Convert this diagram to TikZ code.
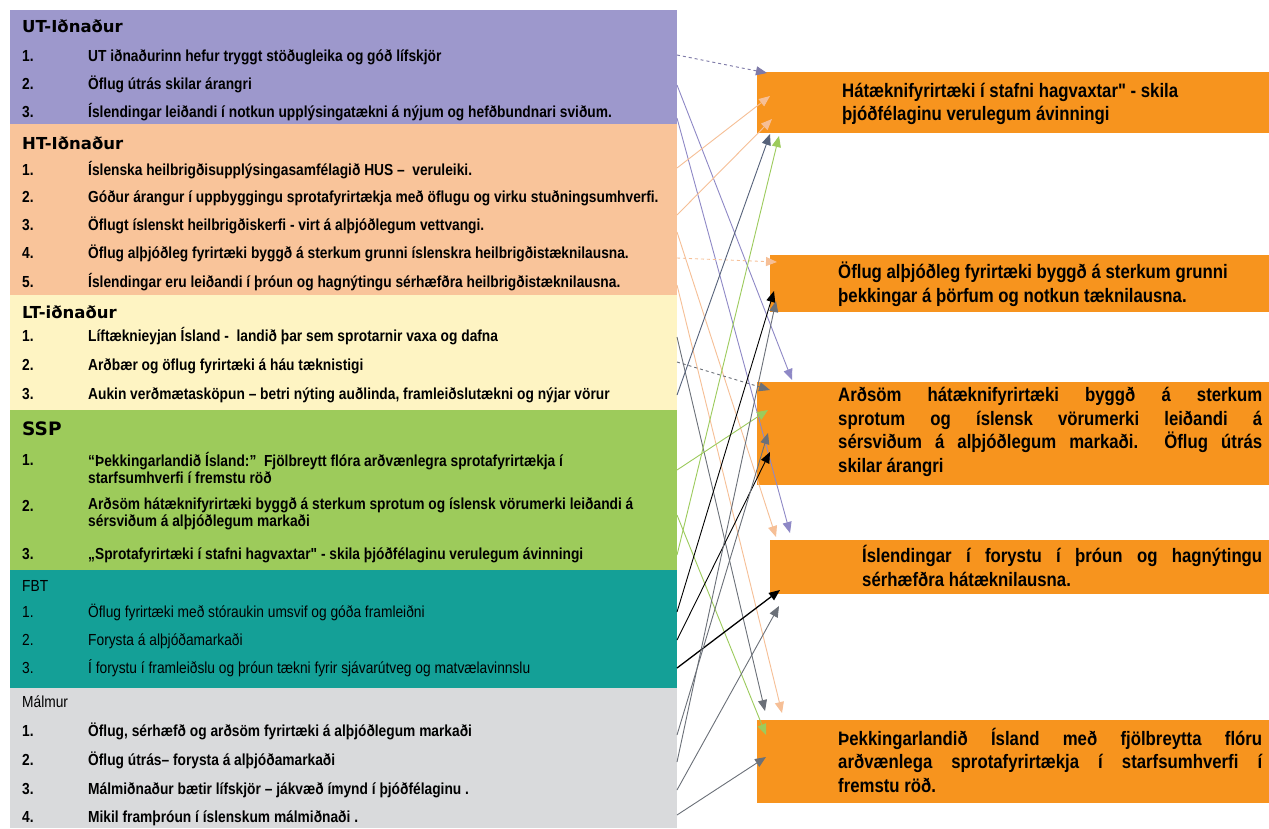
\documentclass[tikz,border=0pt]{standalone}
\usepackage{fontspec}
\setmainfont{Liberation Sans}
\newfontfamily\nar[FakeStretch=0.86]{Liberation Sans}
\newfontfamily\hdr{DejaVu Sans}
\usetikzlibrary{arrows.meta}
\definecolor{cUT}{HTML}{9D98CC}
\definecolor{cHT}{HTML}{F9C49A}
\definecolor{cLT}{HTML}{FEF4C3}
\definecolor{cSSP}{HTML}{9DCB5B}
\definecolor{cFBT}{HTML}{14A097}
\definecolor{cM}{HTML}{D9DADC}
\definecolor{cOr}{HTML}{F7941E}
\definecolor{aPur}{HTML}{8E88C6}
\definecolor{aPurD}{HTML}{7E7AA8}
\definecolor{aPea}{HTML}{F6BF96}
\definecolor{aGre}{HTML}{9CCB5C}
\definecolor{aGry}{HTML}{6B7078}
\definecolor{aSla}{HTML}{56627A}
\tikzset{
  sec/.style={anchor=north west,inner sep=0pt,outer sep=0pt},
  item/.style={anchor=west,inner sep=0pt,text height=11.5pt,text depth=3.5pt,font=\nar\bfseries\fontsize{16}{17}\selectfont},
  itemr/.style={anchor=west,inner sep=0pt,text height=11.5pt,text depth=3.5pt,font=\nar\fontsize{16}{17}\selectfont},
  head/.style={anchor=west,inner sep=0pt,font=\hdr\bfseries\fontsize{16.5}{18}\selectfont},
  goal/.style={anchor=north west,inner sep=0pt,outer sep=0pt,fill=cOr},
  gtext/.style={anchor=west,inner sep=0pt,align=left,font=\nar\bfseries\fontsize{19.5}{23.5}\selectfont},
  arr/.style={-{Triangle[length=11pt,width=9pt]},line width=0.9pt},
}
\begin{document}
\begin{tikzpicture}[x=1pt,y=-1pt]
\useasboundingbox (0,0) rectangle (1269,828);
\fill[white] (0,0) rectangle (1269,828);
% ---------- left panel sections
\node[sec,fill=cUT,minimum width=667pt,minimum height=114pt] (UT) at (10,10) {};
\node[sec,fill=cHT,minimum width=667pt,minimum height=171pt] (HT) at (10,124) {};
\node[sec,fill=cLT,minimum width=667pt,minimum height=115pt] (LT) at (10,295) {};
\node[sec,fill=cSSP,minimum width=667pt,minimum height=160pt] (SSP) at (10,410) {};
\node[sec,fill=cFBT,minimum width=667pt,minimum height=118pt] (FBT) at (10,570) {};
\node[sec,fill=cM,minimum width=667pt,minimum height=140pt] (MAL) at (10,688) {};
% ---------- UT
\node[head] (hUT) at (22,26) {UT-Iðnaður};
\node[item] (nUT1) at (22,57) {1.}; \node[item] (tUT1) at (88,57) {UT iðnaðurinn hefur tryggt stöðugleika og góð lífskjör};
\node[item] (nUT2) at (22,85) {2.}; \node[item] (tUT2) at (88,85) {Öflug útrás skilar árangri};
\node[item] (nUT3) at (22,113) {3.}; \node[item] (tUT3) at (88,113) {Íslendingar leiðandi í notkun upplýsingatækni á nýjum og hefðbundnari sviðum.};
% ---------- HT
\node[head] (hHT) at (22,143) {HT-Iðnaður};
\node[item] (nHT1) at (22,171) {1.}; \node[item] (tHT1) at (88,171) {Íslenska heilbrigðisupplýsingasamfélagið HUS –\ \ veruleiki.};
\node[item] (nHT2) at (22,198) {2.}; \node[item] (tHT2) at (88,198) {Góður árangur í uppbyggingu sprotafyrirtækja með öflugu og virku stuðningsumhverfi.};
\node[item] (nHT3) at (22,226) {3.}; \node[item] (tHT3) at (88,226) {Öflugt íslenskt heilbrigðiskerfi - virt á alþjóðlegum vettvangi.};
\node[item] (nHT4) at (22,254) {4.}; \node[item] (tHT4) at (88,254) {Öflug alþjóðleg fyrirtæki byggð á sterkum grunni íslenskra heilbrigðistæknilausna.};
\node[item] (nHT5) at (22,283) {5.}; \node[item] (tHT5) at (88,283) {Íslendingar eru leiðandi í þróun og hagnýtingu sérhæfðra heilbrigðistæknilausna.};
% ---------- LT
\node[head] (hLT) at (22,312) {LT-iðnaður};
\node[item] (nLT1) at (22,337) {1.}; \node[item] (tLT1) at (88,337) {Líftæknieyjan Ísland -\ \ landið þar sem sprotarnir vaxa og dafna};
\node[item] (nLT2) at (22,366) {2.}; \node[item] (tLT2) at (88,366) {Arðbær og öflug fyrirtæki á háu tæknistigi};
\node[item] (nLT3) at (22,395) {3.}; \node[item] (tLT3) at (88,395) {Aukin verðmætasköpun – betri nýting auðlinda, framleiðslutækni og nýjar vörur};
% ---------- SSP
\node[head,font=\hdr\bfseries\fontsize{18.5}{20}\selectfont] (hSSP) at (22,429) {SSP};
\node[item] (nSSP1) at (22,461) {1.}; \node[item,text height=,text depth=,align=left,anchor=north west] (tSSP1) at (88,452) {“Þekkingarlandið Ísland:”\ \ Fjölbreytt flóra arðvænlegra sprotafyrirtækja í\\starfsumhverfi í fremstu röð};
\node[item] (nSSP2) at (22,507) {2.}; \node[item,text height=,text depth=,align=left,anchor=north west] (tSSP2) at (88,498) {Arðsöm hátæknifyrirtæki byggð á sterkum sprotum og íslensk vörumerki leiðandi á\\sérsviðum á alþjóðlegum markaði};
\node[item] (nSSP3) at (22,555) {3.}; \node[item] (tSSP3) at (88,555) {„Sprotafyrirtæki í stafni hagvaxtar" - skila þjóðfélaginu verulegum ávinningi};
% ---------- FBT
\node[itemr] (hFBT) at (22,587) {FBT};
\node[itemr] (nFBT1) at (22,613) {1.}; \node[itemr] (tFBT1) at (88,613) {Öflug fyrirtæki með stóraukin umsvif og góða framleiðni};
\node[itemr] (nFBT2) at (22,641) {2.}; \node[itemr] (tFBT2) at (88,641) {Forysta á alþjóðamarkaði};
\node[itemr] (nFBT3) at (22,669) {3.}; \node[itemr] (tFBT3) at (88,669) {Í forystu í framleiðslu og þróun tækni fyrir sjávarútveg og matvælavinnslu};
% ---------- Malmur
\node[itemr] (hMAL) at (22,703) {Málmur};
\node[item] (nM1) at (22,732) {1.}; \node[item] (tM1) at (88,732) {Öflug, sérhæfð og arðsöm fyrirtæki á alþjóðlegum markaði};
\node[item] (nM2) at (22,761) {2.}; \node[item] (tM2) at (88,761) {Öflug útrás– forysta á alþjóðamarkaði};
\node[item] (nM3) at (22,790) {3.}; \node[item] (tM3) at (88,790) {Málmiðnaður bætir lífskjör – jákvæð ímynd í þjóðfélaginu .};
\node[item] (nM4) at (22,818) {4.}; \node[item] (tM4) at (88,818) {Mikil framþróun í íslenskum málmiðnaði .};
% ---------- goal boxes
\node[goal,minimum width=512pt,minimum height=61pt] (G1) at (757,72) {};
\node[goal,minimum width=499pt,minimum height=57pt] (G2) at (770,255) {};
\node[goal,minimum width=512pt,minimum height=103pt] (G3) at (757,382) {};
\node[goal,minimum width=499pt,minimum height=54pt] (G4) at (770,540) {};
\node[goal,minimum width=512pt,minimum height=83pt] (G5) at (757,720) {};
\node[gtext] (T1) at (842,104) {Hátæknifyrirtæki í stafni hagvaxtar" - skila\\þjóðfélaginu verulegum ávinningi};
\node[gtext] (T2) at (838,284) {Öflug alþjóðleg fyrirtæki byggð á sterkum grunni\\þekkingar á þörfum og notkun tæknilausna.};
\node[gtext] (T3) at (838,432) {\makebox[424pt][s]{Arðsöm hátæknifyrirtæki byggð á sterkum}\\\makebox[424pt][s]{sprotum og íslensk vörumerki leiðandi á}\\\makebox[424pt][s]{sérsviðum á alþjóðlegum markaði.\ \ Öflug útrás}\\skilar árangri};
\node[gtext] (T4) at (862,566) {\makebox[400pt][s]{Íslendingar í forystu í þróun og hagnýtingu}\\sérhæfðra hátæknilausna.};
\node[gtext] (T5) at (838,760) {\makebox[424pt][s]{Þekkingarlandið Ísland með fjölbreytta flóru}\\\makebox[424pt][s]{arðvænlega sprotafyrirtækja í starfsumhverfi í}\\fremstu röð.};
% ---------- connector end points
\coordinate (sUT1) at (677,55);  \coordinate (sUT2) at (677,85);  \coordinate (sUT3) at (677,118);
\coordinate (sHT1) at (677,168); \coordinate (sHT2) at (677,215); \coordinate (sHT3) at (677,232);
\coordinate (sHT4) at (677,258); \coordinate (sHT5) at (677,285);
\coordinate (sLT1) at (677,337); \coordinate (sLT2) at (677,362); \coordinate (sLT3) at (677,395);
\coordinate (sSSP1) at (677,470); \coordinate (sSSP2) at (677,515); \coordinate (sSSP3) at (677,555);
\coordinate (sFBT1) at (677,612); \coordinate (sFBT2) at (677,640); \coordinate (sFBT3) at (677,668);
\coordinate (sM1) at (677,735); \coordinate (sM2) at (677,762); \coordinate (sM3) at (677,790); \coordinate (sM4) at (677,815);
\coordinate (eG1a) at (767,73);  \coordinate (eG1b) at (770,96);  \coordinate (eG1c) at (772,119);
\coordinate (eG1d) at (770,134); \coordinate (eG1e) at (779,136);
\coordinate (eG2a) at (777,262); \coordinate (eG2b) at (774,291); \coordinate (eG2c) at (776,301);
\coordinate (eG3a) at (792,380); \coordinate (eG3b) at (770,390); \coordinate (eG3c) at (768,410);
\coordinate (eG3d) at (768,433); \coordinate (eG3e) at (770,452);
\coordinate (eG4a) at (790,533); \coordinate (eG4b) at (776,537); \coordinate (eG4c) at (780,590); \coordinate (eG4d) at (779,606);
\coordinate (eG5a) at (765,711); \coordinate (eG5b) at (782,713); \coordinate (eG5c) at (766,735); \coordinate (eG5d) at (766,757);
% ---------- connectors
\draw[arr,aPurD,dashed] (sUT1) -- (eG1a);
\draw[arr,aPur] (sUT2) -- (eG3a);
\draw[arr,aPur] (sUT3) -- (eG4a);
\draw[arr,aPea] (sHT1) -- (eG1b);
\draw[arr,aPea] (sHT2) -- (eG1c);
\draw[arr,aPea,dashed] (sHT4) -- (eG2a);
\draw[arr,aPea] (sHT3) -- (eG4b);
\draw[arr,aPea] (sHT5) -- (eG5b);
\draw[arr,aGry] (sLT1) -- (eG5a);
\draw[arr,aGry,dashed] (sLT2) -- (eG3b);
\draw[arr,aSla] (sLT3) -- (eG1d);
\draw[arr,aGre] (sSSP1) -- (eG3c);
\draw[arr,aGre] (sSSP2) -- (eG5c);
\draw[arr,aGre] (sSSP3) -- (eG1e);
\draw[arr,black] (sFBT1) -- (eG2b);
\draw[arr,black] (sFBT2) -- (eG3e);
\draw[arr,black,line width=1.3pt] (sFBT3) -- (eG4c);
\draw[arr,aGry] (sM1) -- (eG3d);
\draw[arr,aGry] (sM2) -- (eG2c);
\draw[arr,aGry] (sM3) -- (eG4d);
\draw[arr,aGry] (sM4) -- (eG5d);
\end{tikzpicture}
\end{document}
